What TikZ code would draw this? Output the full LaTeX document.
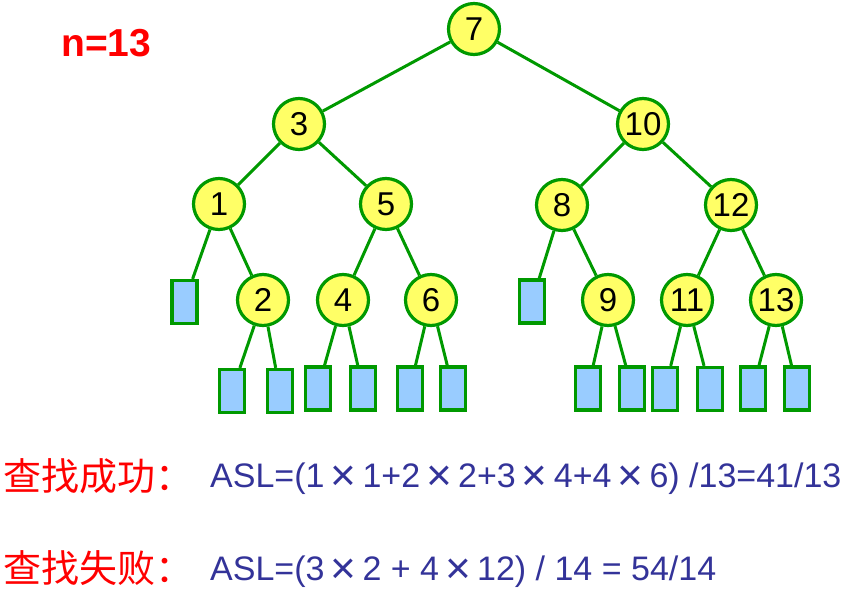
\documentclass[tikz,border=0pt]{standalone}
\usepackage{fontspec}
\setmainfont{Liberation Sans}
\newfontfamily\cjk{Noto Sans CJK SC}
\usepackage{graphicx}
\definecolor{edgegreen}{RGB}{0,153,0}
\definecolor{nodeyellow}{RGB}{255,255,102}
\definecolor{leafblue}{RGB}{153,204,255}
\definecolor{textblue}{RGB}{51,51,153}
\definecolor{textred}{RGB}{255,0,0}
\newcommand{\Xs}{\makebox[38pt]{\raisebox{-0.09em}{\scalebox{1.3}{×}}}}
\begin{document}
\begin{tikzpicture}[x=1pt,y=-1pt,
  key/.style={circle,draw=edgegreen,fill=nodeyellow,line width=3.2pt,minimum size=51pt,inner sep=0pt,font=\fontsize{33}{35}\selectfont},
  leaf/.style={rectangle,draw=edgegreen,fill=leafblue,line width=3.2pt,minimum width=25pt,minimum height=43pt,inner sep=0pt},
  edge/.style={draw=edgegreen,line width=3pt},
  formula/.style={anchor=base west,text=textblue,inner sep=0pt,font=\fontsize{34}{36}\selectfont},
  label/.style={anchor=base west,text=textred,inner sep=0pt,font=\cjk\fontsize{38}{40}\selectfont}]
\useasboundingbox (0,0) rectangle (857,596);
% internal nodes
\node[key] (n7) at (474,29) {7};
\node[key] (n3) at (299,124) {3};
\node[key] (n10) at (643,124) {10};
\node[key] (n1) at (219,204) {1};
\node[key] (n5) at (386,204) {5};
\node[key] (n8) at (562,205) {8};
\node[key] (n12) at (731,205) {12};
\node[key] (n2) at (263,300) {2};
\node[key] (n4) at (343,300) {4};
\node[key] (n6) at (431,300) {6};
\node[key] (n9) at (608,300) {9};
\node[key] (n11) at (687,300) {11};
\node[key] (n13) at (776,300) {13};
% leaves
\node[leaf] (l1) at (184.5,302) {};
\node[leaf] (l2a) at (232,391) {};
\node[leaf] (l2b) at (280,391) {};
\node[leaf] (l4a) at (318,388.5) {};
\node[leaf] (l4b) at (363,388.5) {};
\node[leaf] (l6a) at (410,388.5) {};
\node[leaf] (l6b) at (453,388.5) {};
\node[leaf] (l8) at (532,301.5) {};
\node[leaf] (l9a) at (588,388.5) {};
\node[leaf] (l9b) at (632,388.5) {};
\node[leaf] (l11a) at (665,389) {};
\node[leaf] (l11b) at (710,389) {};
\node[leaf] (l13a) at (753,388.5) {};
\node[leaf] (l13b) at (797,388.5) {};
% edges
\draw[edge] (n7) -- (n3);
\draw[edge] (n7) -- (n10);
\draw[edge] (n3) -- (n1);
\draw[edge] (n3) -- (n5);
\draw[edge] (n10) -- (n8);
\draw[edge] (n10) -- (n12);
\draw[edge] (n1) -- (l1);
\draw[edge] (n1) -- (n2);
\draw[edge] (n5) -- (n4);
\draw[edge] (n5) -- (n6);
\draw[edge] (n8) -- (l8);
\draw[edge] (n8) -- (n9);
\draw[edge] (n12) -- (n11);
\draw[edge] (n12) -- (n13);
\draw[edge] (n2) -- (l2a);
\draw[edge] (n2) -- (l2b);
\draw[edge] (n4) -- (l4a);
\draw[edge] (n4) -- (l4b);
\draw[edge] (n6) -- (l6a);
\draw[edge] (n6) -- (l6b);
\draw[edge] (n9) -- (l9a);
\draw[edge] (n9) -- (l9b);
\draw[edge] (n11) -- (l11a);
\draw[edge] (n11) -- (l11b);
\draw[edge] (n13) -- (l13a);
\draw[edge] (n13) -- (l13b);
% texts
\node[text=textred,font=\bfseries\fontsize{39}{42}\selectfont,anchor=base west,inner sep=0pt] (ntitle) at (61,57) {n=13};
\node[label] (succ) at (3,490) {查找成功：};
\node[label] (fail) at (3,582) {查找失败：};
\node[formula] (f1) at (210,487) {ASL=(1\Xs 1+2\Xs 2+3\Xs 4+4\Xs 6) /13=41/13};
\node[formula] (f2) at (210,580) {ASL=(3\Xs 2 + 4\Xs 12) / 14 = 54/14};
\end{tikzpicture}
\end{document}
